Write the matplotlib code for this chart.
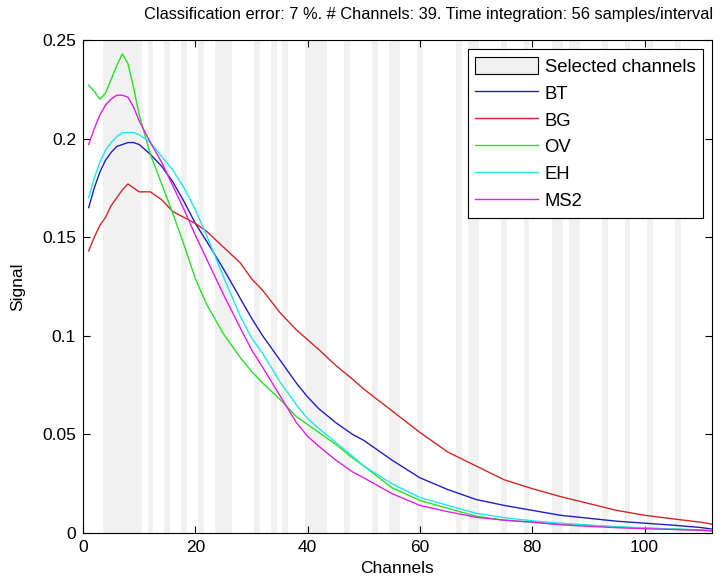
import numpy as np
import matplotlib
matplotlib.use("Agg")
from matplotlib import pyplot as plt
from matplotlib.patches import Patch

# selected channels (gray bands)
selected = [4, 5, 6, 7, 8, 9, 10, 12, 15, 18, 21, 24, 25, 26, 31, 34, 36,
            40, 41, 42, 43, 47, 52, 55, 56, 60, 67, 69, 70, 75, 79, 84, 85,
            87, 88, 93, 97, 101, 106]

channels = [1, 2, 3, 4, 5, 6, 7, 8, 9, 10, 12, 14, 16, 18, 20, 22, 25, 28, 30,
            32, 35, 38, 40, 42, 45, 48, 50, 55, 60, 65, 70, 75, 80, 85, 90, 95,
            100, 105, 110, 112]

bt = [0.165, 0.175, 0.183, 0.189, 0.193, 0.196, 0.197, 0.198, 0.198, 0.197,
      0.192, 0.186, 0.178, 0.168, 0.157, 0.148, 0.134, 0.119, 0.109, 0.100,
      0.088, 0.076, 0.069, 0.063, 0.056, 0.050, 0.047, 0.037, 0.028, 0.022,
      0.017, 0.014, 0.0115, 0.009, 0.0075, 0.006, 0.005, 0.004, 0.0028, 0.002]

bg = [0.143, 0.150, 0.156, 0.160, 0.166, 0.170, 0.174, 0.177, 0.175, 0.173,
      0.173, 0.169, 0.163, 0.160, 0.157, 0.153, 0.145, 0.137, 0.129, 0.123,
      0.112, 0.103, 0.098, 0.093, 0.085, 0.078, 0.073, 0.062, 0.051, 0.041,
      0.034, 0.027, 0.0225, 0.0185, 0.015, 0.0115, 0.009, 0.0072, 0.0055, 0.0045]

ov = [0.227, 0.224, 0.220, 0.223, 0.230, 0.237, 0.243, 0.238, 0.226, 0.212,
      0.192, 0.177, 0.162, 0.146, 0.129, 0.116, 0.101, 0.089, 0.082, 0.076,
      0.068, 0.059, 0.055, 0.051, 0.045, 0.038, 0.034, 0.023, 0.0165, 0.0125,
      0.0085, 0.0065, 0.0055, 0.0045, 0.004, 0.003, 0.0025, 0.002, 0.0015, 0.0012]

eh = [0.170, 0.180, 0.188, 0.194, 0.198, 0.201, 0.203, 0.203, 0.203, 0.202,
      0.198, 0.191, 0.184, 0.175, 0.164, 0.151, 0.130, 0.110, 0.099, 0.091,
      0.077, 0.065, 0.058, 0.053, 0.046, 0.039, 0.034, 0.025, 0.018, 0.014,
      0.010, 0.0078, 0.0062, 0.005, 0.004, 0.0032, 0.0026, 0.002, 0.0016, 0.0014]

ms2 = [0.197, 0.205, 0.212, 0.217, 0.220, 0.222, 0.222, 0.221, 0.216, 0.209,
       0.198, 0.188, 0.176, 0.164, 0.151, 0.139, 0.121, 0.104, 0.093, 0.084,
       0.070, 0.056, 0.049, 0.044, 0.037, 0.031, 0.028, 0.020, 0.014, 0.0108,
       0.008, 0.0065, 0.0055, 0.0042, 0.0034, 0.0027, 0.0022, 0.0018, 0.0014, 0.001]

series = [("BT", bt, "#2020c0"), ("BG", bg, "#d02828"), ("OV", ov, "#28e028"),
          ("EH", eh, "#20e8e8"), ("MS2", ms2, "#e020e0")]

plt.rcParams["font.family"] = ["Liberation Sans", "DejaVu Sans"]

fig = plt.figure(figsize=(7.22, 5.84), dpi=100)
ax = fig.add_axes([0.115, 0.0873, 0.871, 0.8442])

for ch in selected:
    ax.axvspan(ch - 0.5, ch + 0.5, color="#f1f1f1", lw=0, zorder=0)

handles = [Patch(facecolor="#efefef", edgecolor="black", linewidth=0.8)]
labels = ["Selected channels"]
for name, vals, col in series:
    ln, = ax.plot(channels, vals, color=col, lw=1.0)
    handles.append(ln)
    labels.append(name)

ax.set_xlim(0, 112)
ax.set_ylim(0, 0.25)
ax.set_xticks([0, 20, 40, 60, 80, 100])
ax.set_yticks([0, 0.05, 0.1, 0.15, 0.2, 0.25])
ax.set_yticklabels(["0", "0.05", "0.1", "0.15", "0.2", "0.25"])
ax.tick_params(direction="in", top=True, right=True, labelsize=12.5, length=5, pad=5)
ax.set_xlabel("Channels", fontsize=12.5, labelpad=4)
ax.set_ylabel("Signal", fontsize=12.5, labelpad=12)
ax.set_title("Classification error: 7 %. # Channels: 39. Time integration: 56 samples/interval",
             fontsize=11.8, pad=15, x=0.55)

leg = ax.legend(handles, labels, loc="upper right", fontsize=13.3, frameon=True,
                fancybox=False, edgecolor="black", framealpha=1,
                handlelength=3.4, handleheight=1.1, handletextpad=0.35,
                borderaxespad=0.5, labelspacing=0.42, borderpad=0.4)
leg.get_frame().set_linewidth(0.8)

fig.savefig("out.png", dpi=100)
